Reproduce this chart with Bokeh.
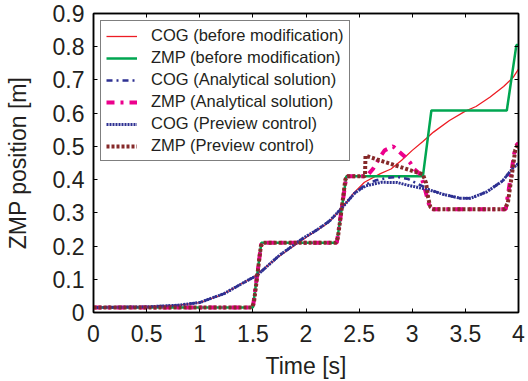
from bokeh.plotting import figure
from bokeh.models import LinearAxis, FixedTicker, Range1d, Legend, LegendItem
from bokeh.embed import file_html
from bokeh.resources import INLINE

# ---------------- data ----------------
x_ticks = [0, 0.5, 1, 1.5, 2, 2.5, 3, 3.5, 4]
x_tick_labels = ["0", "0.5", "1", "1.5", "2", "2.5", "3", "3.5", "4"]
y_ticks = [0, 0.1, 0.2, 0.3, 0.4, 0.5, 0.6, 0.7, 0.8, 0.9]
y_tick_labels = ["0", "0.1", "0.2", "0.3", "0.4", "0.5", "0.6", "0.7", "0.8", "0.9"]

# COG (before modification) - red
t_cog_before = [0, 0.5, 0.8, 1.0, 1.2, 1.4, 1.5, 1.75, 2.0, 2.2, 2.33, 2.45, 2.55,
                2.7, 2.8, 2.9, 3.0, 3.1, 3.2, 3.35, 3.5, 3.6, 3.73, 3.86, 3.95, 4.0]
cog_before = [0.015, 0.017, 0.022, 0.030, 0.052, 0.088, 0.105, 0.170, 0.226, 0.268, 0.31,
              0.360, 0.392, 0.418, 0.432, 0.458, 0.488, 0.515, 0.543, 0.578, 0.606, 0.620,
              0.648, 0.680, 0.708, 0.733]

# ZMP (before modification) - green
t_zmp_before = [0, 1.50, 1.58, 2.29, 2.38, 3.10, 3.18, 3.89, 3.98, 4.0]
zmp_before = [0.015, 0.015, 0.21, 0.21, 0.41, 0.41, 0.608, 0.608, 0.805, 0.805]

# COG (Analytical solution) - blue dash-dot
t_cog_analytic = [0, 0.5, 0.8, 1.0, 1.23, 1.47, 1.54, 1.75, 1.97, 2.1, 2.22, 2.33, 2.46,
                  2.56, 2.66, 2.76, 2.86, 2.96, 3.06, 3.16, 3.3, 3.45, 3.55, 3.7, 3.85,
                  3.95, 4.0]
cog_analytic = [0.015, 0.017, 0.022, 0.030, 0.057, 0.100, 0.112, 0.172, 0.223, 0.248,
                0.275, 0.312, 0.360, 0.385, 0.398, 0.405, 0.408, 0.402, 0.386, 0.370,
                0.355, 0.344, 0.344, 0.363, 0.396, 0.436, 0.448]

# ZMP (Analytical solution) - magenta dash-dot
t_zmp_analytic = [0, 1.50, 1.58, 2.29, 2.38, 2.57, 2.63, 2.70, 2.74, 2.82, 2.92, 2.98,
                  3.02, 3.08, 3.12, 3.17, 3.88, 3.97, 4.0]
zmp_analytic = [0.015, 0.015, 0.21, 0.21, 0.41, 0.41, 0.432, 0.470, 0.488, 0.500, 0.472,
                0.451, 0.431, 0.415, 0.370, 0.311, 0.311, 0.500, 0.510]

# COG (Preview control) - blue dotted
t_cog_preview = [0, 0.5, 0.8, 1.0, 1.23, 1.47, 1.54, 1.75, 1.97, 2.1, 2.22, 2.33, 2.46,
                 2.56, 2.71, 2.86, 2.96, 3.16, 3.3, 3.45, 3.55, 3.7, 3.85, 3.95, 4.0]
cog_preview = [0.015, 0.017, 0.022, 0.030, 0.057, 0.100, 0.112, 0.172, 0.223, 0.248,
               0.275, 0.312, 0.360, 0.381, 0.392, 0.391, 0.383, 0.369, 0.355, 0.344,
               0.344, 0.363, 0.396, 0.436, 0.448]

# ZMP (Preview control) - brown dotted
t_zmp_preview = [0, 1.49, 1.51, 1.545, 1.575, 1.60, 2.28, 2.30, 2.335, 2.37, 2.39, 2.555,
                 2.56, 3.10, 3.13, 3.15, 3.17, 3.20, 3.87, 3.90, 3.94, 3.97, 4.0]
zmp_preview = [0.015, 0.015, 0.03, 0.12, 0.20, 0.21, 0.21, 0.225, 0.31, 0.40, 0.41, 0.41,
               0.472, 0.416, 0.39, 0.345, 0.318, 0.311, 0.311, 0.33, 0.42, 0.49, 0.51]

labels = ["COG (before modification)", "ZMP (before modification)",
          "COG (Analytical solution)", "ZMP (Analytical solution)",
          "COG (Preview control)", "ZMP (Preview control)"]

# ---------------- figure ----------------
FONT = "Liberation Sans"
TXT = "#231f20"

p = figure(width=528, height=381, output_backend="svg", toolbar_location=None,
           x_range=Range1d(0, 4), y_range=Range1d(0, 0.9),
           min_border_left=93, min_border_right=10, min_border_top=13, min_border_bottom=67,
           x_axis_label="Time [s]", y_axis_label="ZMP position [m]")
p.grid.visible = False
p.outline_line_color = "black"
p.outline_line_width = 1.5
p.background_fill_color = "white"
p.border_fill_color = "white"

for ax, ticks, lbls in ((p.xaxis[0], x_ticks, x_tick_labels), (p.yaxis[0], y_ticks, y_tick_labels)):
    ax.ticker = FixedTicker(ticks=ticks)
    ax.major_label_overrides = {t: l for t, l in zip(ticks, lbls)}
    ax.major_label_text_font = FONT
    ax.major_label_text_font_size = "23px"
    ax.major_label_text_color = TXT
    ax.axis_label_text_font = FONT
    ax.axis_label_text_font_size = "23px"
    ax.axis_label_text_font_style = "normal"
    ax.axis_label_text_color = TXT
    ax.major_tick_in = 4
    ax.major_tick_out = 0
    ax.minor_tick_line_color = None
    ax.axis_line_width = 1.5
    ax.major_tick_line_width = 1
p.xaxis[0].major_label_standoff = 12
p.xaxis[0].axis_label_standoff = 8
p.yaxis[0].major_label_standoff = 9
p.yaxis[0].axis_label_standoff = 19

# mirrored tick-only axes on top and right (no labels)
for loc, ticks in (("above", x_ticks), ("right", y_ticks)):
    ax = LinearAxis(ticker=FixedTicker(ticks=ticks))
    ax.major_label_text_font_size = "0px"
    ax.major_label_text_color = None
    ax.major_label_standoff = 0
    ax.major_tick_in = 4
    ax.major_tick_out = 0
    ax.minor_tick_line_color = None
    ax.axis_line_width = 1.5
    p.add_layout(ax, loc)

r1 = p.line(t_cog_before, cog_before, line_color="#ed1c24", line_width=1.3)
r2 = p.line(t_zmp_before, zmp_before, line_color="#00a651", line_width=2.5)
r3 = p.line(t_cog_analytic, cog_analytic, line_color="#2e3192", line_width=2.5,
            line_dash="6 4 2 4")
r4 = p.line(t_zmp_analytic, zmp_analytic, line_color="#ec008c", line_width=4,
            line_dash="8 6 3 6")
r5 = p.line(t_cog_preview, cog_preview, line_color="#2e3192", line_width=3,
            line_dash="2 1")
r6 = p.line(t_zmp_preview, zmp_preview, line_color="#862a2a", line_width=4,
            line_dash="3 2")

legend = Legend(items=[LegendItem(label=l, renderers=[r]) for l, r in
                       zip(labels, [r1, r2, r3, r4, r5, r6])],
                location="top_left")
legend.margin = 7
legend.padding = 5
legend.spacing = 3
legend.glyph_width = 31
legend.glyph_height = 16
legend.label_height = 16
legend.label_standoff = 14
legend.label_text_font = FONT
legend.label_text_font_size = "16.5px"
legend.label_text_color = TXT
legend.border_line_color = "black"
legend.border_line_width = 1.5
legend.background_fill_alpha = 1.0
p.add_layout(legend)

open("out.html", "w").write(file_html(p, INLINE))
